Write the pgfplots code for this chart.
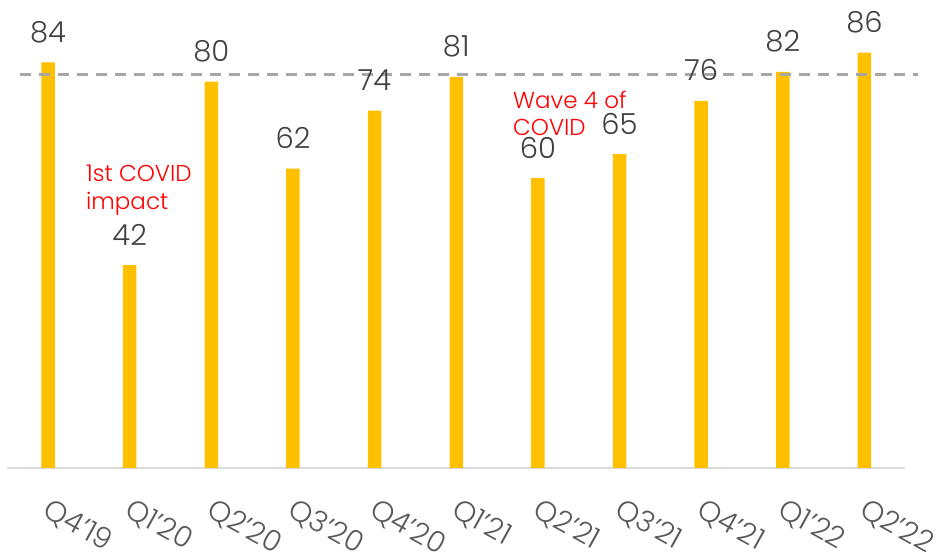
\documentclass[border=0pt]{standalone}
\usepackage{fontspec}
\setmainfont{Poppins}[UprightFont={* Light}]
\usepackage{pgfplots}
\pgfplotsset{compat=1.18}
\definecolor{barY}{HTML}{FFC000}
\definecolor{axisG}{HTML}{D9D9D9}
\definecolor{refG}{HTML}{A6A6A6}
\definecolor{valG}{HTML}{404040}
\definecolor{tickG}{HTML}{595959}
\definecolor{noteR}{HTML}{FF0000}
\begin{document}
\begin{tikzpicture}
\begin{axis}[
  at={(7.2pt,88pt)}, anchor=south west,
  scale only axis, width=898.1pt, height=434.7pt,
  xmin=-0.5, xmax=10.5, ymin=0, ymax=90,
  clip=false,
  axis y line=none,
  axis x line*=bottom,
  x axis line style={-, draw=axisG, line width=1.5pt},
  xtick={0,...,10},
  xticklabels={Q4’19,Q1’20,Q2’20,Q3’20,Q4’20,Q1’21,Q2’21,Q3’21,Q4’21,Q1’22,Q2’22},
  major tick length=0pt,
  xticklabel style={xshift=4pt, yshift=-29pt, rotate=-29,
    anchor=north west, inner sep=0pt, text=tickG,
    font=\fontsize{29}{33}\selectfont},
  /pgf/number format/assume math mode=true,
  bar width=13.5pt,
]
\addplot[ybar, fill=barY, draw=none,
  nodes near coords,
  nodes near coords style={anchor=base, yshift=20pt, inner sep=0pt,
    text=valG, font=\fontsize{29}{34}\selectfont}]
  coordinates {
  (0,84) (1,42) (2,80) (3,62) (4,74) (5,81)
  (6,60) (7,65) (8,76) (9,82) (10,86)};
% reference level across all quarters
\addplot[sharp plot, refG, line width=3pt, dash pattern=on 11pt off 8pt]
  coordinates {(-0.343,81.5) (10.655,81.5)};
\node[anchor=base west, inner sep=0pt, text=noteR, font=\fontsize{23}{27}\selectfont]
  at (axis cs:0.465,59.3) {1st COVID};
\node[anchor=base west, inner sep=0pt, text=noteR, font=\fontsize{23}{27}\selectfont]
  at (axis cs:0.465,53.6) {impact};
\node[anchor=base west, inner sep=0pt, text=noteR, font=\fontsize{23}{27}\selectfont]
  at (axis cs:5.695,74.5) {Wave 4 of};
\node[anchor=base west, inner sep=0pt, text=noteR, font=\fontsize{23}{27}\selectfont]
  at (axis cs:5.695,68.9) {COVID};
\end{axis}
\pgfresetboundingbox
\path[use as bounding box] (0,0) rectangle (940pt,556pt);
\end{tikzpicture}
\end{document}
